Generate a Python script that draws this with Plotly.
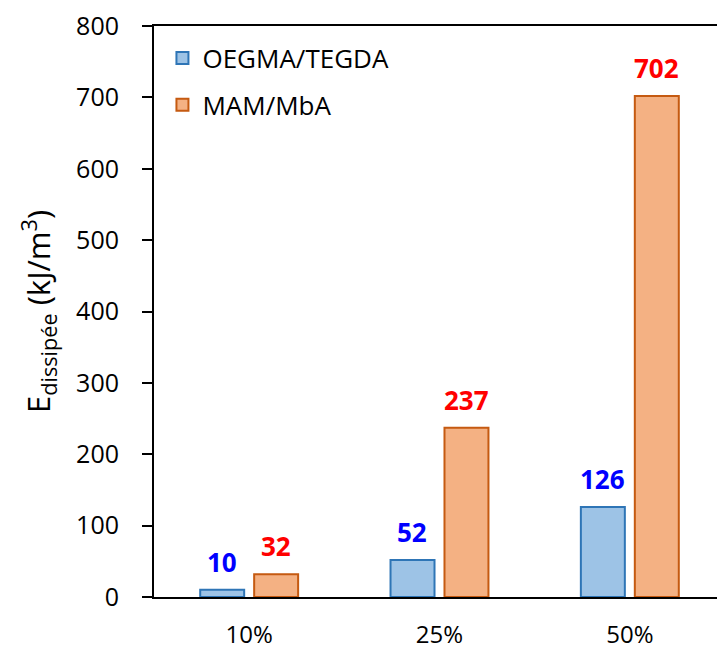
import plotly.graph_objects as go

categories = ["10%", "25%", "50%"]
oegma_values = [10, 52, 126]
mam_values = [32, 237, 702]
series_names = ["OEGMA/TEGDA", "MAM/MbA"]
y_ticks = [0, 100, 200, 300, 400, 500, 600, 700, 800]

FONT = "Open Sans"

fig = go.Figure()
fig.add_trace(go.Bar(
    x=categories, y=oegma_values, name=series_names[0], legendgroup="a",
    marker=dict(color="#9DC3E6", line=dict(color="#2E75B6", width=2)),
))
fig.add_trace(go.Bar(
    x=categories, y=mam_values, name=series_names[1], legendgroup="b",
    marker=dict(color="#F4B183", line=dict(color="#C55A11", width=2)),
))

# value labels above each bar, offset to the bar's slot within its group
for vals, color, dx in [(oegma_values, "#0000FF", -0.142), (mam_values, "#FF0000", 0.142)]:
    for i, v in enumerate(vals):
        fig.add_annotation(
            x=i + dx, y=v,
            text=f"<b>{v}</b>", showarrow=False,
            xref="x", yref="y", yanchor="bottom", yshift=8,
            font=dict(family=FONT, size=26, color=color),
        )

fig.update_layout(
    width=717, height=650,
    margin=dict(l=154, r=0, t=26, b=53),
    paper_bgcolor="white", plot_bgcolor="white",
    barmode="group", bargap=0.433, bargroupgap=0.185,
    font=dict(family=FONT, size=26, color="black"),
    showlegend=True,
    legend=dict(
        x=0.015, y=0.985, xanchor="left", yanchor="top",
        font=dict(family=FONT, size=26, color="black"),
        bgcolor="rgba(0,0,0,0)", tracegroupgap=10, itemwidth=30,
    ),
)

fig.update_xaxes(
    type="category", range=[-0.5, 2.458], automargin=False,
    showline=True, linecolor="black", linewidth=2, mirror=True,
    ticks="", showgrid=False, zeroline=False,
    tickfont=dict(family=FONT, size=24),
    ticklabelstandoff=15,
)
fig.update_yaxes(
    range=[0, 800], tickvals=y_ticks, automargin=False,
    showline=True, linecolor="black", linewidth=2,
    ticks="outside", ticklen=10, tickwidth=2, tickcolor="black",
    showgrid=False, zeroline=False,
    tickfont=dict(family=FONT, size=25),
    ticklabelstandoff=18,
    title=dict(
        text="E<sub>dissipée</sub> (kJ/m<sup>3</sup>)",
        font=dict(family=FONT, size=31), standoff=16,
    ),
)

fig.write_html("out.html")
